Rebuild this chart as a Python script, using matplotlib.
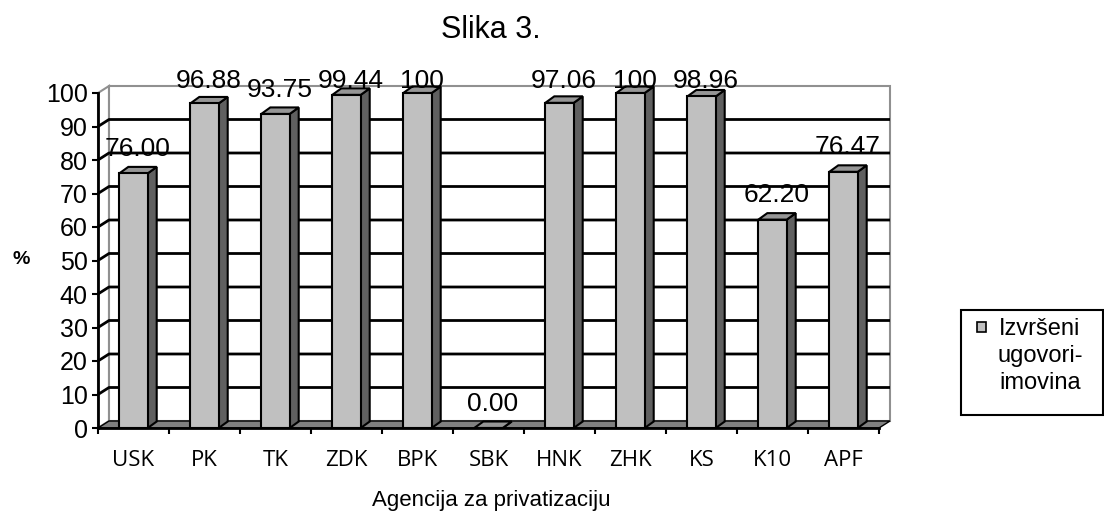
import numpy as np
import matplotlib.pyplot as plt
from matplotlib.patches import Polygon, Rectangle

plt.rcParams['font.family'] = ['Liberation Sans', 'DejaVu Sans']

categories = ['USK', 'PK', 'TK', 'ZDK', 'BPK', 'SBK', 'HNK', 'ZHK', 'KS', 'K10', 'APF']
values = [76.00, 96.88, 93.75, 99.44, 100, 0.00, 97.06, 100, 98.96, 62.20, 76.47]
value_labels = ['76.00', '96.88', '93.75', '99.44', '100', '0.00', '97.06', '100', '98.96', '62.20', '76.47']
yticks = np.arange(0, 101, 10)
series_name = 'Izvršeni\nugovori-\nimovina'

W, H = 1104, 518
fig = plt.figure(figsize=(W / 100, H / 100), dpi=100)
# plot area in pixels: x 98..879, y 428 (0) .. 93 (100)
ax = fig.add_axes([98 / W, (H - 428) / H, 781 / W, 335 / H])
n = len(categories)
ax.set_xlim(0, n)
ax.set_ylim(0, 100)
ax.patch.set_visible(False)

ux = n / 781.0    # data units per pixel
uy = 100 / 335.0
wdx, wdy = 11 * ux, 7 * uy      # wall depth
bdx, bdy = 9 * ux, 6.5 * uy     # bar depth
bw = 0.4

wall_edge = '#909090'
# side wall and back wall
ax.add_patch(Polygon([(0, 0), (0, 100), (wdx, 100 + wdy), (wdx, wdy)], closed=True,
                     facecolor='white', edgecolor=wall_edge, lw=1.5, clip_on=False, zorder=1))
ax.add_patch(Rectangle((wdx, wdy), n, 100, facecolor='white', edgecolor=wall_edge,
                       lw=1.5, clip_on=False, zorder=1))
# gridlines
for v in yticks[1:-1]:
    ax.plot([0, wdx, n + wdx], [v, v + wdy, v + wdy], color='black', lw=2,
            clip_on=False, zorder=2, solid_capstyle='butt')
# floor
ax.add_patch(Polygon([(0, 0), (n, 0), (n + wdx, wdy), (wdx, wdy)], closed=True,
                     facecolor='#808080', edgecolor='black', lw=1, clip_on=False, zorder=3))

# bars
for i, v in enumerate(values):
    x0 = i + 0.5 - bw / 2
    x1 = x0 + bw
    kw = dict(closed=True, edgecolor='black', lw=1.5, clip_on=False, zorder=4)
    ax.add_patch(Polygon([(x1, 0), (x1 + bdx, bdy), (x1 + bdx, v + bdy), (x1, v)],
                         facecolor='#606060', **kw))
    ax.add_patch(Polygon([(x0, v), (x1, v), (x1 + bdx, v + bdy), (x0 + bdx, v + bdy)],
                         facecolor='#969696', **kw))
    ax.add_patch(Rectangle((x0, 0), bw, v, facecolor='#c0c0c0', edgecolor='black',
                           lw=1.5, clip_on=False, zorder=4))
    ax.text(i + 0.5 + 4 * ux, min(v + 5.2, 101.5), value_labels[i], ha='center',
            va='baseline', fontsize=19, zorder=6, clip_on=False)

# axes
for s in ['top', 'right']:
    ax.spines[s].set_visible(False)
for s in ['left', 'bottom']:
    ax.spines[s].set_linewidth(2)
    ax.spines[s].set_zorder(5)
ax.set_yticks(yticks)
ax.tick_params(axis='y', direction='out', length=4.5, width=1.5, pad=3, labelsize=18)
ax.set_xticks(np.arange(n + 1))
ax.set_xticklabels([])
ax.tick_params(axis='x', which='major', direction='out', length=4.5, width=1.5)
ax.set_xticks(np.arange(n) + 0.5, minor=True)
ax.set_xticklabels(categories, minor=True, fontsize=16, fontfamily='Open Sans')
ax.tick_params(axis='x', which='minor', length=0, pad=16)

fig.text(491 / W, 1 - 38 / H, 'Slika 3.', ha='center', va='baseline', fontsize=22)
fig.text(491 / W, 1 - 506 / H, 'Agencija za privatizaciju', ha='center', va='baseline',
         fontsize=16)
fig.text(21 / W, 1 - 260 / H, '%', ha='center', va='center', fontsize=14, fontweight='bold')

# legend
fig.patches.append(Rectangle((961 / W, 1 - 415 / H), 142 / W, 105 / H, transform=fig.transFigure,
                             facecolor='white', edgecolor='black', lw=1.5))
fig.patches.append(Rectangle((977 / W, 1 - 332 / H), 9 / W, 10 / H, transform=fig.transFigure,
                             facecolor='#c0c0c0', edgecolor='black', lw=1.2))
fig.text(1040 / W, 1 - 318 / H, series_name, ha='center', va='top', fontsize=17,
         multialignment='center', linespacing=1.3)

fig.savefig('out.png', dpi=100)
